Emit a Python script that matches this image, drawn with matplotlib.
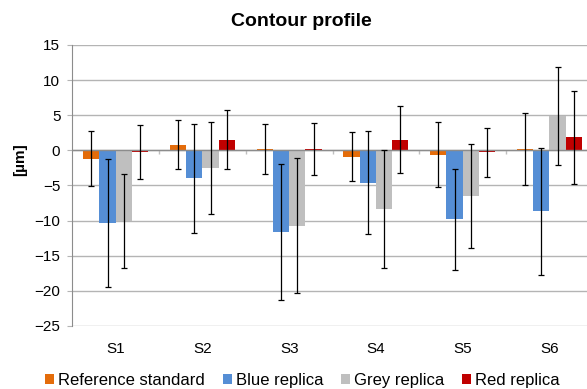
import numpy as np
import matplotlib.pyplot as plt

plt.rcParams["font.family"] = ["Liberation Sans", "DejaVu Sans"]

# data
samples = ["S1", "S2", "S3", "S4", "S5", "S6"]
series = ["Reference standard", "Blue replica", "Grey replica", "Red replica"]
colors = ["#E46C0A", "#558ED5", "#BFBFBF", "#C00000"]

reference = [-1.2, 0.8, 0.2, -0.9, -0.6, 0.2]
blue = [-10.3, -4.0, -11.6, -4.6, -9.8, -8.7]
grey = [-10.1, -2.5, -10.7, -8.4, -6.5, 4.9]
red = [-0.2, 1.5, 0.15, 1.5, -0.3, 1.85]

reference_err = [3.9, 3.5, 3.5, 3.5, 4.6, 5.1]
blue_err = [9.1, 7.7, 9.7, 7.3, 7.2, 9.1]
grey_err = [6.7, 6.5, 9.6, 8.4, 7.4, 7.0]
red_err = [3.85, 4.2, 3.7, 4.75, 3.55, 6.6]

values = [reference, blue, grey, red]
errors = [reference_err, blue_err, grey_err, red_err]


def main() -> int:
    fig = plt.figure(figsize=(5.87, 3.89), dpi=100)
    ax = fig.add_axes([0.1232, 0.162, 0.8867, 0.7224])

    x = np.arange(len(samples))
    width = 0.187
    for i, (vals, errs) in enumerate(zip(values, errors)):
        pos = x + (i - 1.5) * width
        ax.bar(pos, vals, width, color=colors[i], label=series[i], zorder=3)
        ax.errorbar(pos, vals, yerr=errs, fmt="none", ecolor="black",
                    elinewidth=0.9, capsize=2, capthick=0.9, zorder=4)

    # category axis at zero with small separator ticks
    ax.axhline(0, color="#8C8C8C", linewidth=1, zorder=3.5)
    bounds = np.arange(len(samples) + 1) - 0.5
    ax.vlines(bounds[1:-1], -0.5, 0, color="#BFBFBF", linewidth=1, zorder=2)

    ax.set_xlim(-0.5, len(samples) - 0.5)
    ax.set_ylim(-25, 15)
    ax.set_yticks(range(-25, 16, 5))
    ax.yaxis.grid(True, color="#B4B4B4", linewidth=1, zorder=0)
    ax.set_xticks(x)
    ax.set_xticklabels(samples, fontsize=11)
    ax.tick_params(axis="x", length=0, pad=11.5)
    ax.tick_params(axis="y", length=3.6, color="#B4B4B4", labelsize=11, pad=5)

    for side in ["top", "right", "bottom"]:
        ax.spines[side].set_visible(False)
    ax.spines["left"].set_color("#8C8C8C")

    fig.text(20 / 587, 1 - 160 / 389, "[µm]", rotation=90, fontsize=11,
             fontweight="bold", ha="center", va="center")
    fig.text(301 / 587, 1 - 26 / 389, "Contour profile", fontsize=14,
             fontweight="bold", ha="center", va="baseline")

    handles, labels = ax.get_legend_handles_labels()
    fig.legend(handles, labels, loc="center", bbox_to_anchor=(0.515, 0.023),
               ncol=4, frameon=False, fontsize=12, handlelength=0.54,
               handleheight=0.54, handletextpad=0.25, columnspacing=1.05,
               borderaxespad=0, borderpad=0)

    fig.savefig("out.png", dpi=100)
    return 0


if __name__ == "__main__":
    main()
